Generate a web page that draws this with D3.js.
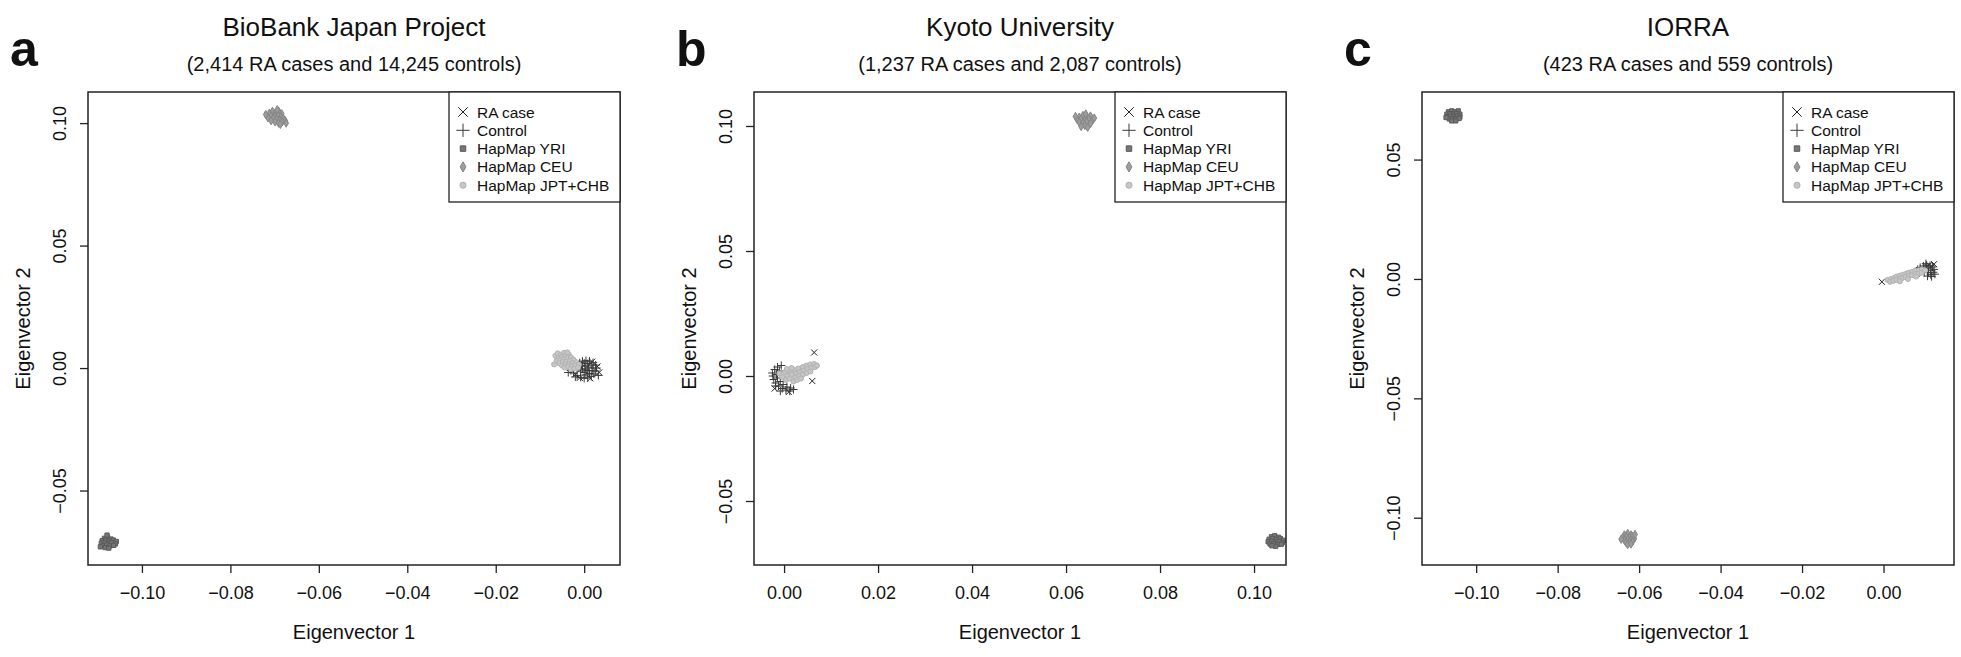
<!DOCTYPE html>
<html>
<head>
<meta charset="utf-8">
<script src="https://cdn.jsdelivr.net/npm/d3@7"></script>
<style>
  body { margin: 0; background: #fff; }
  svg text { font-family: "Liberation Sans", Arial, sans-serif; fill: #111; }
</style>
</head>
<body>
<div id="chart"></div>
<script>
// ---- data (eigenvector 1, eigenvector 2) ----
var groupNames = ["RA case", "Control", "HapMap YRI", "HapMap CEU", "HapMap JPT+CHB"];

// panel a: BioBank Japan Project
var aCases = [[-0.0020,-0.0026],[0.0014,-0.0042],[0.0030,0.0006],[0.0018,0.0026],[-0.0010,-0.0040],[0.0034,-0.0018]];
var aControls = [[-0.0030,-0.0010],[-0.0024,-0.0020],[-0.0016,-0.0030],[-0.0008,-0.0038],[0.0000,-0.0042],[0.0008,-0.0040],
  [0.0016,-0.0034],[0.0022,-0.0024],[0.0026,-0.0012],[0.0028,0.0000],[0.0026,0.0012],[0.0020,0.0022],[0.0012,0.0028],
  [0.0004,0.0030],[-0.0004,0.0028],[-0.0010,0.0022],[0.0004,-0.0028],[0.0012,-0.0022],[0.0018,-0.0012],[0.0020,0.0000],
  [0.0016,0.0012],[0.0008,0.0018],[0.0000,0.0020],[-0.0006,0.0010],[-0.0012,0.0000],[-0.0008,-0.0012],[0.0000,-0.0018],
  [0.0008,-0.0010],[0.0010,0.0004],[0.0002,0.0008],[-0.0004,-0.0004],[0.0004,-0.0004],[-0.0020,-0.0036],[0.0032,-0.0030],
  [-0.0036,-0.0018]];
var aYRI = [[-0.1085,-0.0695],[-0.1078,-0.0690],[-0.1070,-0.0698],[-0.1090,-0.0705],[-0.1082,-0.0703],[-0.1074,-0.0706],
  [-0.1065,-0.0702],[-0.1058,-0.0708],[-0.1092,-0.0715],[-0.1084,-0.0712],[-0.1076,-0.0716],[-0.1068,-0.0713],
  [-0.1060,-0.0718],[-0.1088,-0.0724],[-0.1080,-0.0722],[-0.1072,-0.0726],[-0.1064,-0.0724],[-0.1094,-0.0730],
  [-0.1083,-0.0733],[-0.1075,-0.0735],[-0.1079,-0.0682]];
var aCEU = [[-0.0712,0.1040],[-0.0705,0.1048],[-0.0698,0.1042],[-0.0690,0.1046],[-0.0684,0.1038],[-0.0708,0.1030],
  [-0.0700,0.1028],[-0.0692,0.1032],[-0.0686,0.1025],[-0.0715,0.1022],[-0.0703,0.1018],[-0.0695,0.1015],[-0.0688,0.1012],
  [-0.0680,0.1018],[-0.0699,0.1005],[-0.0691,0.1000],[-0.0683,0.1005],[-0.0676,0.1010],[-0.0708,0.1010],[-0.0720,0.1035],
  [-0.0694,0.1055],[-0.0687,0.0995],[-0.0674,0.1000]];
var aJPT = [[-0.0065,0.0050],[-0.0060,0.0060],[-0.0052,0.0055],[-0.0045,0.0062],[-0.0058,0.0040],[-0.0050,0.0045],
  [-0.0042,0.0050],[-0.0035,0.0055],[-0.0062,0.0030],[-0.0054,0.0032],[-0.0046,0.0036],[-0.0038,0.0040],[-0.0030,0.0044],
  [-0.0056,0.0020],[-0.0048,0.0024],[-0.0040,0.0026],[-0.0032,0.0030],[-0.0024,0.0034],[-0.0050,0.0010],[-0.0042,0.0014],
  [-0.0034,0.0016],[-0.0026,0.0020],[-0.0018,0.0024],[-0.0044,0.0002],[-0.0036,0.0006],[-0.0028,0.0008],[-0.0020,0.0012],
  [-0.0012,0.0014],[-0.0030,-0.0004],[-0.0022,-0.0002],[-0.0014,0.0002],[-0.0068,0.0015],[-0.0038,0.0064]];

// panel b: Kyoto University
var bCases = [[0.0064,0.0094],[0.0060,-0.0020],[-0.0020,-0.0050],[0.0010,-0.0064]];
var bControls = [[-0.0024,0.0000],[-0.0025,0.0012],[-0.0022,-0.0014],[-0.0020,0.0026],[-0.0018,-0.0028],[-0.0014,0.0036],
  [-0.0012,-0.0040],[-0.0006,0.0042],[-0.0004,-0.0050],[0.0004,-0.0056],[0.0012,-0.0060],[-0.0016,0.0006],[-0.0014,-0.0008],
  [-0.0010,0.0020],[-0.0008,-0.0022],[-0.0002,-0.0034],[0.0006,-0.0044],[0.0014,-0.0048],[-0.0018,-0.0040],[-0.0008,-0.0060],
  [0.0020,-0.0054]];
var bYRI = [[0.1037,-0.0643],[0.1044,-0.0639],[0.1052,-0.0645],[0.1032,-0.0653],[0.1040,-0.0651],[0.1048,-0.0654],
  [0.1056,-0.0650],[0.1062,-0.0657],[0.1030,-0.0663],[0.1038,-0.0661],[0.1046,-0.0664],[0.1054,-0.0661],[0.1060,-0.0667],
  [0.1034,-0.0672],[0.1042,-0.0671],[0.1050,-0.0674],[0.1058,-0.0673],[0.1046,-0.0681],[0.1038,-0.0679]];
var bCEU = [[0.0628,0.1035],[0.0636,0.1042],[0.0644,0.1036],[0.0652,0.1040],[0.0624,0.1025],[0.0632,0.1028],[0.0640,0.1024],
  [0.0648,0.1028],[0.0656,0.1022],[0.0628,0.1015],[0.0636,0.1012],[0.0644,0.1016],[0.0652,0.1010],[0.0640,0.1002],
  [0.0632,0.0998],[0.0646,0.0995],[0.0660,0.1032],[0.0620,0.1038],[0.0642,0.1048]];
var bJPT = [[-0.0010,0.0010],[-0.0004,-0.0004],[0.0002,0.0016],[0.0008,0.0002],[0.0004,-0.0016],[0.0012,0.0020],
  [0.0016,0.0006],[0.0012,-0.0010],[0.0020,-0.0022],[0.0022,0.0024],[0.0026,0.0010],[0.0024,-0.0006],[0.0030,0.0030],
  [0.0034,0.0016],[0.0032,0.0000],[0.0040,0.0036],[0.0042,0.0022],[0.0040,0.0006],[0.0048,0.0042],[0.0050,0.0028],
  [0.0048,0.0012],[0.0056,0.0046],[0.0058,0.0032],[0.0056,0.0018],[0.0064,0.0048],[0.0066,0.0036],[0.0070,0.0042],
  [0.0028,-0.0016],[0.0036,-0.0010],[0.0006,0.0028],[0.0016,0.0032]];

// panel c: IORRA
var cCases = [[-0.0004,-0.0012],[0.0124,0.0062],[0.0112,0.0058]];
var cControls = [[0.0078,0.0030],[0.0084,0.0040],[0.0090,0.0048],[0.0098,0.0054],[0.0106,0.0058],[0.0114,0.0056],
  [0.0120,0.0050],[0.0124,0.0040],[0.0122,0.0028],[0.0116,0.0018],[0.0108,0.0012],[0.0094,0.0038],[0.0102,0.0044],
  [0.0110,0.0046],[0.0116,0.0036],[0.0110,0.0026],[0.0100,0.0028],[0.0088,0.0026],[0.0118,0.0010],[0.0126,0.0020],
  [0.0072,0.0022],[0.0104,0.0064]];
var cYRI = [[-0.1068,0.0700],[-0.1060,0.0704],[-0.1052,0.0700],[-0.1044,0.0704],[-0.1072,0.0690],[-0.1064,0.0692],
  [-0.1056,0.0690],[-0.1048,0.0693],[-0.1040,0.0690],[-0.1070,0.0680],[-0.1062,0.0682],[-0.1054,0.0680],[-0.1046,0.0683],
  [-0.1040,0.0678],[-0.1066,0.0670],[-0.1058,0.0672],[-0.1050,0.0670],[-0.1042,0.0672],[-0.1060,0.0662],[-0.1050,0.0662],
  [-0.1074,0.0676]];
var cCEU = [[-0.0636,-0.1072],[-0.0628,-0.1066],[-0.0620,-0.1072],[-0.0640,-0.1084],[-0.0632,-0.1080],[-0.0624,-0.1082],
  [-0.0616,-0.1078],[-0.0636,-0.1094],[-0.0628,-0.1090],[-0.0620,-0.1094],[-0.0612,-0.1088],[-0.0632,-0.1104],
  [-0.0624,-0.1102],[-0.0616,-0.1100],[-0.0628,-0.1112],[-0.0620,-0.1110],[-0.0644,-0.1090],[-0.0610,-0.1070]];
var cJPT = [[0.0010,-0.0004],[0.0018,0.0000],[0.0016,-0.0012],[0.0026,0.0004],[0.0024,-0.0008],[0.0032,0.0010],
  [0.0032,-0.0004],[0.0040,0.0014],[0.0040,0.0000],[0.0048,0.0018],[0.0046,0.0004],[0.0056,0.0022],[0.0054,0.0008],
  [0.0062,0.0026],[0.0062,0.0012],[0.0070,0.0030],[0.0070,0.0016],[0.0078,0.0034],[0.0078,0.0020],[0.0086,0.0036],
  [0.0086,0.0022],[0.0094,0.0040],[0.0094,0.0026],[0.0102,0.0036],[0.0040,-0.0010],[0.0060,0.0000],[0.0080,0.0010]];

// ---- panel definitions ----
var panels = [
  { tag: "a", title: "BioBank Japan Project", sub: "(2,414 RA cases and 14,245 controls)",
    left: 88, xDomain: [-0.1122, 0.0081], yDomain: [-0.0804, 0.1127],
    xTicks: [-0.10, -0.08, -0.06, -0.04, -0.02, 0.00], yTicks: [-0.05, 0.00, 0.05, 0.10],
    groups: [aCases, aControls, aYRI, aCEU, aJPT] },
  { tag: "b", title: "Kyoto University", sub: "(1,237 RA cases and 2,087 controls)",
    left: 754, xDomain: [-0.0064, 0.1068], yDomain: [-0.0756, 0.1136],
    xTicks: [0.00, 0.02, 0.04, 0.06, 0.08, 0.10], yTicks: [-0.05, 0.00, 0.05, 0.10],
    groups: [bCases, bControls, bYRI, bCEU, bJPT] },
  { tag: "c", title: "IORRA", sub: "(423 RA cases and 559 controls)",
    left: 1422, xDomain: [-0.1133, 0.0173], yDomain: [-0.1198, 0.0783],
    xTicks: [-0.10, -0.08, -0.06, -0.04, -0.02, 0.00], yTicks: [-0.10, -0.05, 0.00, 0.05],
    groups: [cCases, cControls, cYRI, cCEU, cJPT] }
];

var W = 1961, H = 657;
var plotW = 532, plotTop = 92, plotBottom = 565;

// marker styles per group
var symTimes = d3.symbolTimes || d3.symbolCross;
var symPlus = d3.symbolPlus || d3.symbolCross;
var styles = [
  { type: symTimes, size: 26, fill: "none", stroke: "#222" },
  { type: symPlus, size: 24, fill: "none", stroke: "#3a3a3a" },
  { type: d3.symbolSquare, size: 18, fill: "#767676", stroke: "#5a5a5a" },
  { type: d3.symbolDiamond, size: 20, fill: "#9c9c9c", stroke: "#858585" },
  { type: d3.symbolCircle, size: 20, fill: "#c6c6c6", stroke: "#b2b2b2" }
];

var svg = d3.select("#chart").append("svg")
  .attr("width", W).attr("height", H);

var fmt = function(v) { return d3.format(".2f")(v).replace("-", "\u2212"); };

panels.forEach(function(p) {
  var x = d3.scaleLinear().domain(p.xDomain).range([p.left, p.left + plotW]);
  var y = d3.scaleLinear().domain(p.yDomain).range([plotBottom, plotTop]);
  var g = svg.append("g");
  var cx = p.left + plotW / 2;

  // panel letter, title and subtitle
  g.append("text").attr("x", p.left - 78).attr("y", 66)
    .style("font-size", "50px").style("font-weight", "bold").text(p.tag);
  g.append("text").attr("x", cx).attr("y", 36).attr("text-anchor", "middle")
    .style("font-size", "26px").text(p.title);
  g.append("text").attr("x", cx).attr("y", 71).attr("text-anchor", "middle")
    .style("font-size", "20px").text(p.sub);

  // axes
  var xAxis = d3.axisBottom(x).tickValues(p.xTicks).tickFormat(fmt).tickSize(8).tickSizeOuter(0);
  var yAxis = d3.axisLeft(y).tickValues(p.yTicks).tickFormat(fmt).tickSize(8).tickSizeOuter(0);
  var gx = g.append("g").attr("transform", "translate(0," + plotBottom + ")").call(xAxis);
  var gy = g.append("g").attr("transform", "translate(" + p.left + ",0)").call(yAxis);
  [gx, gy].forEach(function(a) {
    a.select(".domain").remove();
    a.selectAll(".tick line").attr("stroke", "#222").attr("stroke-width", 1.3);
    a.selectAll(".tick text").style("font-size", "18px")
      .style("font-family", "'Liberation Sans', Arial, sans-serif").attr("fill", "#111");
  });
  gx.selectAll(".tick text").attr("dy", "1.3em");
  gy.selectAll(".tick text")
    .attr("x", 0).attr("y", 0).attr("dy", 0).attr("text-anchor", "middle")
    .attr("transform", "translate(-22,0) rotate(-90)");

  // axis titles
  g.append("text").attr("x", cx).attr("y", 639).attr("text-anchor", "middle")
    .style("font-size", "20px").text("Eigenvector 1");
  g.append("text").attr("transform", "translate(" + (p.left - 58) + "," + ((plotTop + plotBottom) / 2) + ") rotate(-90)")
    .attr("text-anchor", "middle").style("font-size", "20px").text("Eigenvector 2");

  // points
  var pts = g.append("g");
  p.groups.forEach(function(data, gi) {
    var st = styles[gi];
    pts.selectAll(null).data(data).enter().append("path")
      .attr("transform", function(d) { return "translate(" + x(d[0]) + "," + y(d[1]) + ")"; })
      .attr("d", d3.symbol().type(st.type).size(st.size))
      .attr("fill", st.fill).attr("stroke", st.stroke).attr("stroke-width", 1);
  });

  // plot box
  g.append("rect").attr("x", p.left).attr("y", plotTop).attr("width", plotW).attr("height", plotBottom - plotTop)
    .attr("fill", "none").attr("stroke", "#222").attr("stroke-width", 1.5);

  // legend (top right)
  var lw = 171, lh = 110, lx = p.left + plotW - lw;
  var lg = g.append("g").attr("transform", "translate(" + lx + "," + plotTop + ")");
  lg.append("rect").attr("width", lw).attr("height", lh)
    .attr("fill", "#fff").attr("stroke", "#222").attr("stroke-width", 1.3);
  groupNames.forEach(function(name, i) {
    var st = styles[i];
    var ly = 20 + i * 18.3;
    lg.append("path").attr("transform", "translate(14," + ly + ")")
      .attr("d", d3.symbol().type(st.type).size(i < 2 ? 60 : 30))
      .attr("fill", st.fill).attr("stroke", st.stroke).attr("stroke-width", 1);
    lg.append("text").attr("x", 28).attr("y", ly + 5.5).style("font-size", "15.5px").text(name);
  });
});
</script>
</body>
</html>
